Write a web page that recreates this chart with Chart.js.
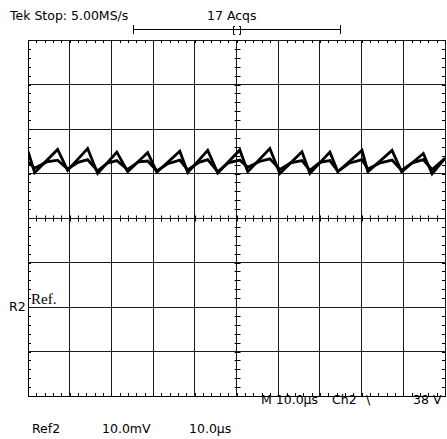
<!DOCTYPE html>
<html>
<head>
<meta charset="utf-8">
<script src="https://cdn.jsdelivr.net/npm/chart.js@4"></script>
<style>
  body { margin: 0; background: #fff; }
  #wrap { position: relative; width: 447px; height: 439px; }
  #scope { position: absolute; left: 0; top: 0; z-index: 1; }
  .lbl { position: absolute; z-index: 0; font: 12.5px "DejaVu Sans", sans-serif; line-height: 14px; color: #000; white-space: pre; }
  .serif { font: 15px "Liberation Serif", serif; line-height: 17px; }
</style>
</head>
<body>
<div id="wrap">
  <div class="lbl" style="left:10px;top:9px">Tek Stop: 5.00MS/s</div>
  <div class="lbl" style="left:207px;top:9px">17 Acqs</div>
  <div class="lbl" style="left:261px;top:393px">M 10.0µs</div>
  <div class="lbl" style="left:332px;top:393px">Ch2</div>
  <div class="lbl" style="left:366px;top:393px">\</div>
  <div class="lbl" style="left:413px;top:393px">38 V</div>
  <div class="lbl" style="left:32px;top:422px">Ref2</div>
  <div class="lbl" style="left:102px;top:422px">10.0mV</div>
  <div class="lbl" style="left:189px;top:422px">10.0µs</div>
  <div class="lbl" style="left:9px;top:300px">R2</div>
  <div class="lbl serif" style="left:31px;top:291px">Ref.</div>
  <canvas id="scope" width="447" height="439"></canvas>
</div>
<script>
// time in µs, amplitude in mV (10 µs/div, 10 mV/div)
const timeA = [0, 1.6, 7.1, 9.5, 14.3, 16.7, 21.3, 23.9, 28.7, 30.9, 36.4, 38.3, 43.1, 45.5,
  50.8, 52.7, 58.0, 60.4, 65.7, 67.6, 72.4, 74.3, 80.1, 81.5, 87.3, 89.6, 94.8, 96.9, 100]
const traceA = [15.0, 10.2, 15.4, 10.7, 15.6, 10.0, 14.8, 10.4, 14.7, 10.3, 15.0, 10.2, 15.2, 10.1,
  15.3, 10.4, 15.6, 10.0, 14.9, 10.0, 14.8, 10.4, 15.2, 10.4, 15.2, 10.4, 14.5, 9.9, 13.4]

const timeB = [0, 1.6, 4.5, 7.1, 9.5, 12.0, 14.3, 16.7, 19.0, 21.3, 23.9, 26.5, 28.7, 30.9, 33.5,
  36.4, 38.3, 41.0, 43.1, 45.5, 48.0, 50.8, 52.7, 55.5, 58.0, 60.4, 63.0, 65.7, 67.6, 70.0,
  72.4, 74.3, 77.0, 80.1, 81.5, 84.5, 87.3, 89.6, 92.0, 94.8, 96.9, 100]
const traceB = [12.6, 11.2, 12.6, 13.0, 11.0, 12.5, 13.1, 10.6, 12.3, 12.9, 10.9, 12.6, 12.8, 10.6, 12.2,
  13.0, 10.8, 12.5, 13.1, 10.4, 12.4, 13.0, 11.4, 12.7, 13.3, 10.9, 12.4, 12.9, 10.7, 12.5,
  12.9, 10.5, 12.3, 13.1, 11.0, 12.4, 13.0, 10.7, 12.3, 13.1, 10.9, 13.4]

const xRange = [0, 100]
const yRange = [-40, 40]

// minor graticule marks: 5 per division on the border and the centre lines
const graticule = {
  id: 'graticule',
  beforeDatasetsDraw(chart) {
    const { ctx, chartArea: a, scales: { x, y } } = chart
    const xc = Math.round(x.getPixelForValue(50)) + 0.5
    const yc = Math.round(y.getPixelForValue(0)) + 0.5
    ctx.save()
    ctx.strokeStyle = '#000'
    ctx.lineWidth = 1
    ctx.beginPath()
    for (let i = 0; i <= 50; i++) {
      const px = Math.round(x.getPixelForValue(x.min + i * 2)) + 0.5
      ctx.moveTo(px, a.top); ctx.lineTo(px, a.top + 3)
      ctx.moveTo(px, a.bottom); ctx.lineTo(px, a.bottom - 3)
      ctx.moveTo(px, yc - 3); ctx.lineTo(px, yc + 3)
    }
    for (let i = 0; i <= 40; i++) {
      const py = Math.round(y.getPixelForValue(y.min + i * 2)) + 0.5
      ctx.moveTo(a.left, py); ctx.lineTo(a.left + 3, py)
      ctx.moveTo(a.right, py); ctx.lineTo(a.right - 3, py)
      ctx.moveTo(xc - 3, py); ctx.lineTo(xc + 3, py)
    }
    ctx.stroke()
    ctx.restore()
  },
  afterDraw(chart) {
    // record-position bar above the screen
    const ctx = chart.ctx
    ctx.save()
    ctx.strokeStyle = '#000'
    ctx.lineWidth = 1
    ctx.beginPath()
    ctx.moveTo(133, 29.5); ctx.lineTo(341, 29.5)
    ctx.moveTo(133.5, 25); ctx.lineTo(133.5, 34)
    ctx.moveTo(340.5, 25); ctx.lineTo(340.5, 34)
    ctx.moveTo(235, 26.5); ctx.lineTo(233.5, 26.5); ctx.lineTo(233.5, 34.5); ctx.lineTo(235, 34.5)
    ctx.moveTo(239, 26.5); ctx.lineTo(240.5, 26.5); ctx.lineTo(240.5, 34.5); ctx.lineTo(239, 34.5)
    ctx.stroke()
    ctx.restore()
  }
}

const gridStyle = { color: '#1a1a1a', lineWidth: 1, drawTicks: false }

new Chart(document.getElementById('scope'), {
  type: 'line',
  data: {
    datasets: [
      {
        label: 'Ref2 a',
        data: timeA.map((t, i) => ({ x: t, y: traceA[i] })),
        borderColor: '#000',
        borderWidth: 2.8,
        pointRadius: 0,
        tension: 0
      },
      {
        label: 'Ref2 b',
        data: timeB.map((t, i) => ({ x: t, y: traceB[i] })),
        borderColor: '#000',
        borderWidth: 2.8,
        pointRadius: 0,
        tension: 0
      }
    ]
  },
  options: {
    responsive: false,
    animation: false,
    devicePixelRatio: 1,
    layout: { padding: { left: 28, top: 40, right: 2, bottom: 43 } },
    plugins: { legend: { display: false }, tooltip: { enabled: false } },
    scales: {
      x: {
        type: 'linear', min: xRange[0], max: xRange[1],
        ticks: { display: false, stepSize: 10 },
        grid: gridStyle,
        border: { color: '#000', width: 1 }
      },
      y: {
        type: 'linear', min: yRange[0], max: yRange[1],
        ticks: { display: false, stepSize: 10 },
        grid: gridStyle,
        border: { color: '#000', width: 1 }
      }
    }
  },
  plugins: [graticule]
})
</script>
</body>
</html>
